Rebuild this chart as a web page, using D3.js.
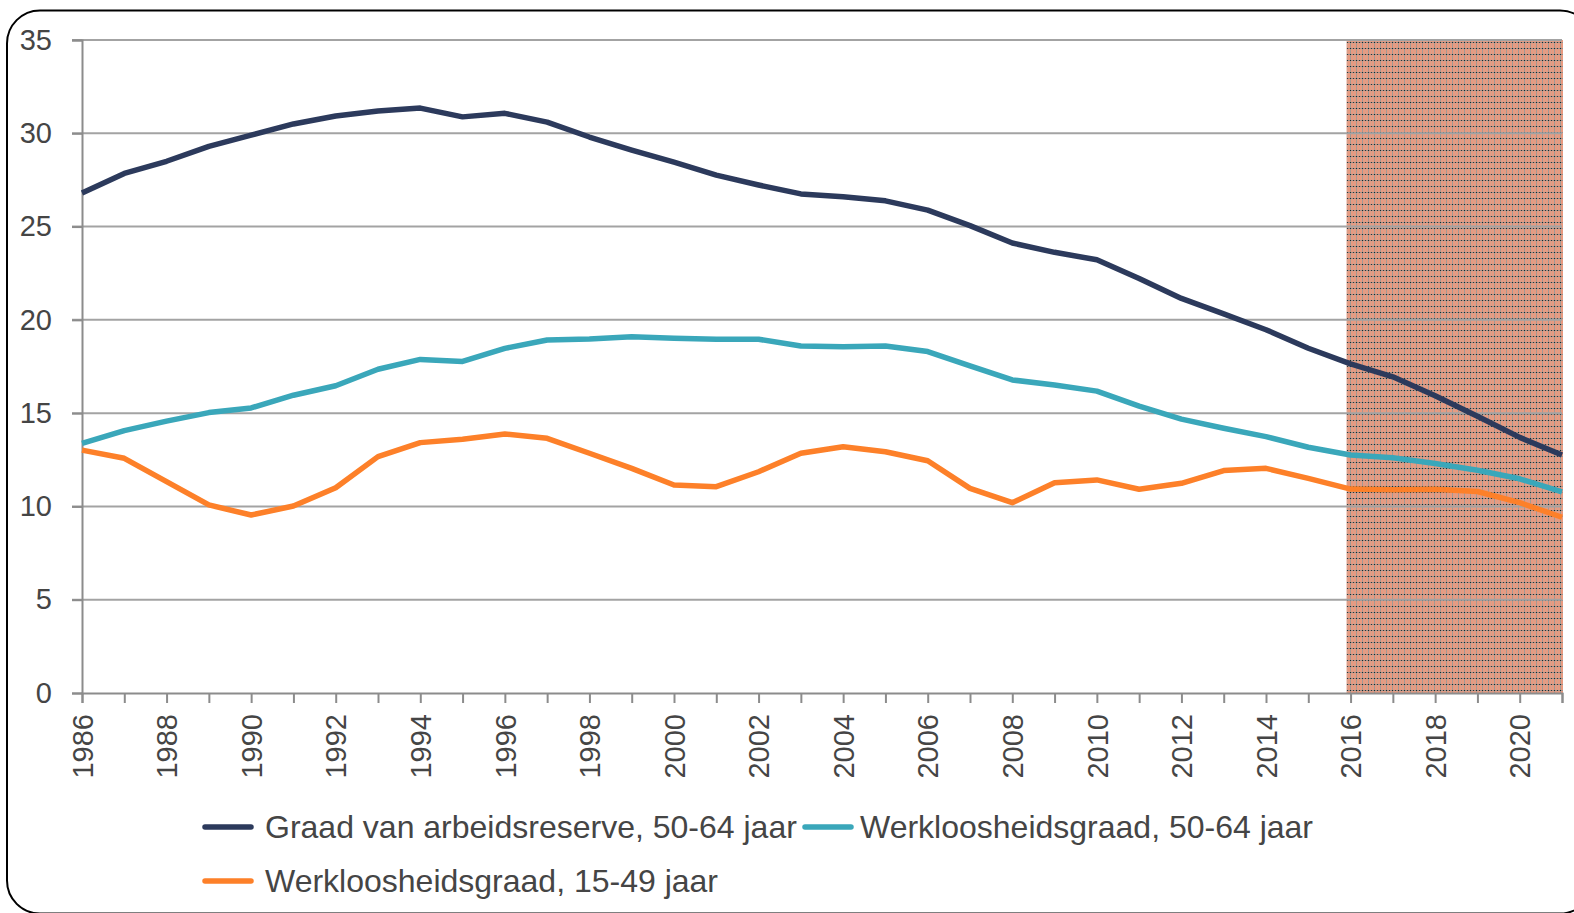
<!DOCTYPE html>
<html>
<head>
<meta charset="utf-8">
<script src="https://cdn.jsdelivr.net/npm/d3@7"></script>
<style>
  html, body { margin: 0; padding: 0; background: #fff; }
  svg { display: block; font-family: "Liberation Sans", Arial, sans-serif; }
  .tick-label { fill: #454545; font-size: 29px; }
  .legend-label { fill: #454545; font-size: 32px; }
</style>
</head>
<body>
<svg id="chart" width="1574" height="913"></svg>
<script>
/* =======================================================================
   Arbeidsreserve en werkloosheid
   ======================================================================= */

/* Data
======================================================================= */
var years = d3.range(1986, 2022), // 1986 .. 2021

    // Graad van arbeidsreserve, 50-64 jaar
    reserve5064 = [26.8, 27.85, 28.5, 29.3, 29.9, 30.5, 30.93, 31.2, 31.35, 30.88,
                   31.07, 30.6, 29.8, 29.1, 28.45, 27.76, 27.23, 26.75, 26.6, 26.38,
                   25.88, 25.05, 24.12, 23.62, 23.22, 22.22, 21.15, 20.32, 19.47, 18.48,
                   17.64, 16.95, 15.93, 14.83, 13.7, 12.76],

    // Werkloosheidsgraad, 50-64 jaar
    unemp5064 = [13.38, 14.06, 14.57, 15.03, 15.28, 15.96, 16.47, 17.35, 17.88, 17.77,
                 18.47, 18.92, 18.98, 19.1, 19.02, 18.96, 18.96, 18.6, 18.56, 18.6,
                 18.3, 17.53, 16.78, 16.51, 16.18, 15.38, 14.68, 14.19, 13.74, 13.17,
                 12.76, 12.61, 12.3, 11.94, 11.48, 10.78],

    // Werkloosheidsgraad, 15-49 jaar
    unemp1549 = [13.02, 12.58, 11.33, 10.08, 9.54, 10.02, 11.0, 12.67, 13.42, 13.6,
                 13.88, 13.65, 12.85, 12.04, 11.15, 11.06, 11.86, 12.85, 13.2, 12.93,
                 12.45, 10.97, 10.2, 11.27, 11.42, 10.92, 11.24, 11.92, 12.04, 11.5,
                 10.93, 10.9, 10.92, 10.8, 10.2, 9.42],

    yTicks = [0, 5, 10, 15, 20, 25, 30, 35],
    forecastYears = [2016, 2021], // Shaded projection period

    seriesNames = ['Graad van arbeidsreserve, 50-64 jaar',
                   'Werkloosheidsgraad, 50-64 jaar',
                   'Werkloosheidsgraad, 15-49 jaar'],
    seriesColors = ['#2c3a5c', '#3aa7ba', '#fd8029'];

/* Layout
======================================================================= */
var svg = d3.select('#chart'),
    plotLeft = 82, // Plot left (y axis)
    plotRight = 1562, // Plot right
    plotTop = 40, // Plot top (35)
    plotBottom = 693, // Plot bottom (0)
    gridColor = '#a3a3a3',
    axisColor = '#8c8c8c';

var x = d3.scaleLinear().domain([1986, 2021]).range([plotLeft, plotRight]),
    y = d3.scaleLinear().domain([0, 35]).range([plotBottom, plotTop]);

/* Outer frame
======================================================================= */
svg.append('rect')
   .attr('x', 7).attr('y', 10.5)
   .attr('width', 1586).attr('height', 903)
   .attr('rx', 33).attr('ry', 33)
   .attr('fill', '#fff')
   .attr('stroke', '#000')
   .attr('stroke-width', 2);

/* Pattern for the shaded projection area
======================================================================= */
var pat = svg.append('defs').append('pattern')
   .attr('id', 'grid-fill')
   .attr('patternUnits', 'userSpaceOnUse')
   .attr('width', 6).attr('height', 6);

pat.append('rect').attr('width', 6).attr('height', 6).attr('fill', '#e89a80');
pat.append('rect').attr('x', 0).attr('y', 0).attr('width', 1).attr('height', 6).attr('fill', '#a39a94');
pat.append('rect').attr('x', 3).attr('y', 0).attr('width', 1).attr('height', 6).attr('fill', '#d8a08c');
pat.append('rect').attr('x', 0).attr('y', 0).attr('width', 6).attr('height', 1).attr('fill', '#a0948e');
pat.append('rect').attr('x', 0).attr('y', 0).attr('width', 1).attr('height', 1).attr('fill', '#222');
pat.append('rect').attr('x', 3).attr('y', 0).attr('width', 1).attr('height', 1).attr('fill', '#333');

svg.append('rect')
   .attr('x', x(forecastYears[0]) - 4)
   .attr('y', y(35))
   .attr('width', x(forecastYears[1]) - x(forecastYears[0]) + 5)
   .attr('height', y(0) - y(35))
   .attr('fill', 'url(#grid-fill)');

/* Gridlines and y axis
======================================================================= */
svg.append('g')
   .selectAll('line')
   .data(yTicks.filter(function(d) { return d > 0; }))
   .enter().append('line')
     .attr('x1', plotLeft - 10).attr('x2', plotRight)
     .attr('y1', function(d) { return y(d); })
     .attr('y2', function(d) { return y(d); })
     .attr('stroke', gridColor)
     .attr('stroke-width', 2);

var yAxis = svg.append('g')
   .attr('transform', 'translate(' + plotLeft + ',0)')
   .call(d3.axisLeft(y).tickValues(yTicks).tickSize(10).tickPadding(20));

yAxis.attr('font-size', null).attr('font-family', null);
yAxis.select('.domain').attr('stroke', axisColor).attr('stroke-width', 2);
yAxis.selectAll('.tick line').attr('stroke', axisColor).attr('stroke-width', 2);
yAxis.selectAll('.tick text').attr('class', 'tick-label');

/* X axis
======================================================================= */
var xAxis = svg.append('g')
   .attr('transform', 'translate(0,' + plotBottom + ')')
   .call(d3.axisBottom(x)
           .tickValues(years)
           .tickSize(10)
           .tickFormat(function(d) { return d % 2 === 0 ? d : ''; }));

xAxis.attr('font-size', null).attr('font-family', null);
xAxis.select('.domain').attr('stroke', axisColor).attr('stroke-width', 2);
xAxis.selectAll('.tick line').attr('stroke', axisColor).attr('stroke-width', 2);
xAxis.selectAll('.tick text')
     .attr('class', 'tick-label')
     .attr('transform', 'rotate(-90)')
     .attr('text-anchor', 'end')
     .attr('x', -21)
     .attr('y', 0)
     .attr('dy', '0.35em');

/* Lines
======================================================================= */
var line = d3.line()
   .x(function(d, i) { return x(years[i]); })
   .y(function(d) { return y(d); });

[reserve5064, unemp5064, unemp1549].forEach(function(series, i) {
  svg.append('path')
     .datum(series)
     .attr('d', line)
     .attr('fill', 'none')
     .attr('stroke', seriesColors[i])
     .attr('stroke-width', 5.5)
     .attr('stroke-linejoin', 'round');
});

/* Legend
======================================================================= */
var legendItems = [
  { name: seriesNames[0], color: seriesColors[0], x: 203, y: 827 },
  { name: seriesNames[1], color: seriesColors[1], x: 803, y: 827 },
  { name: seriesNames[2], color: seriesColors[2], x: 203, y: 881 }
];

var legend = svg.append('g')
   .selectAll('g')
   .data(legendItems)
   .enter().append('g')
     .attr('transform', function(d) { return 'translate(' + d.x + ',' + d.y + ')'; });

legend.append('line')
      .attr('x1', 2).attr('x2', 48)
      .attr('stroke', function(d) { return d.color; })
      .attr('stroke-width', 5.5)
      .attr('stroke-linecap', 'round');

legend.append('text')
      .attr('class', 'legend-label')
      .attr('x', function(d, i) { return i === 1 ? 57 : 62; })
      .attr('dy', '0.35em')
      .text(function(d) { return d.name; });
</script>
</body>
</html>
